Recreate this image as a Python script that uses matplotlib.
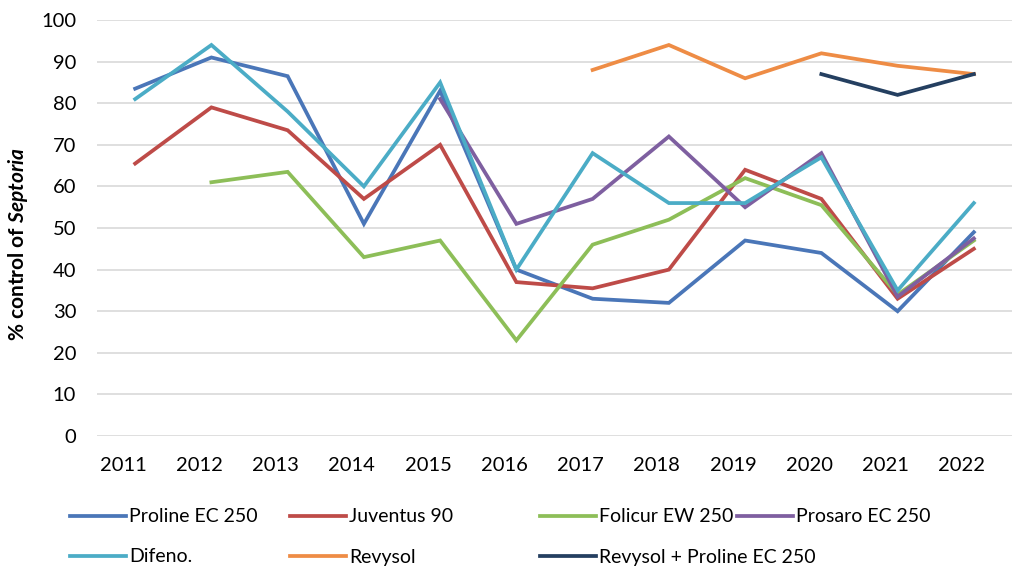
import matplotlib
matplotlib.use("Agg")
import matplotlib.pyplot as plt
import matplotlib.transforms as mtransforms
import numpy as np

plt.rcParams['font.family'] = ['Lato', 'DejaVu Sans']
plt.rcParams['mathtext.fontset'] = 'custom'
plt.rcParams['mathtext.it'] = 'Lato:italic:bold'
plt.rcParams['mathtext.rm'] = 'Lato:bold'

# Data (None = no trial that year)
years = [2011, 2012, 2013, 2014, 2015, 2016, 2017, 2018, 2019, 2020, 2021, 2022]
proline = [83.5, 91, 86.5, 51, 83, 40, 33, 32, 47, 44, 30, 49]
juventus = [65.5, 79, 73.5, 57, 70, 37, 35.5, 40, 64, 57, 33, 45]
folicur = [None, 61, 63.5, 43, 47, 23, 46, 52, 62, 55.5, 34, 47]
prosaro = [None, None, None, None, 81, 51, 57, 72, 55, 68, 33.5, 47.5]
difeno = [81, 94, 78, 60, 85, 40, 68, 56, 56, 67, 35, 56]
revysol = [None, None, None, None, None, None, 88, 94, 86, 92, 89, 87]
revysol_proline = [None, None, None, None, None, None, None, None, None, 87, 82, 87]

series = [
    ("Proline EC 250", proline, "#4A76B8"),
    ("Juventus 90", juventus, "#BE4B48"),
    ("Folicur EW 250", folicur, "#8DBE58"),
    ("Prosaro EC 250", prosaro, "#7E5FA0"),
    ("Difeno.", difeno, "#4BACC6"),
    ("Revysol", revysol, "#EE8C45"),
    ("Revysol + Proline EC 250", revysol_proline, "#243F60"),
]

fig = plt.figure(figsize=(10.14, 5.74), dpi=100)
ax = fig.add_axes([0.0957, 0.2404, 0.9023, 0.7247])

handles = []
for name, vals, col in series:
    y = np.array([np.nan if v is None else v for v in vals], dtype=float)
    ln, = ax.plot(years, y, color=col, lw=2.7, label=name, solid_joinstyle='miter')
    handles.append(ln)

ax.set_xlim(2010.5, 2022.5)
ax.set_ylim(0, 100)
ax.set_xticks(years)
ax.set_yticks(range(0, 101, 10))
ax.yaxis.grid(True, color='#D9D9D9', lw=1.2)
ax.set_axisbelow(True)
for s in ax.spines.values():
    s.set_visible(False)
ax.tick_params(axis='x', length=0, pad=15, labelsize=14.5)
ax.tick_params(axis='y', length=0, pad=15, labelsize=14.5)

# x labels sit a little left of the data points
offset = mtransforms.ScaledTranslation(-12 / 100, 0, fig.dpi_scale_trans)
for lab in ax.get_xticklabels():
    lab.set_transform(lab.get_transform() + offset)

fig.text(0.018, 0.575, r'% control of $\mathit{Septoria}$', rotation=90,
         fontsize=15, fontweight='bold', ha='center', va='center')

# legend entries placed like the original two-row layout
legend_pos = [(70, 517), (290, 517), (540, 517), (737, 517),
              (70, 557), (290, 557), (540, 557)]
for h, (px, py) in zip(handles, legend_pos):
    lg = fig.legend([h], [h.get_label()], loc='center left',
                    bbox_to_anchor=(px / 1014, 1 - py / 574), frameon=False,
                    borderpad=0, borderaxespad=0, handlelength=2.9,
                    handletextpad=0.15, fontsize=14)

fig.savefig("out.png", dpi=100)
